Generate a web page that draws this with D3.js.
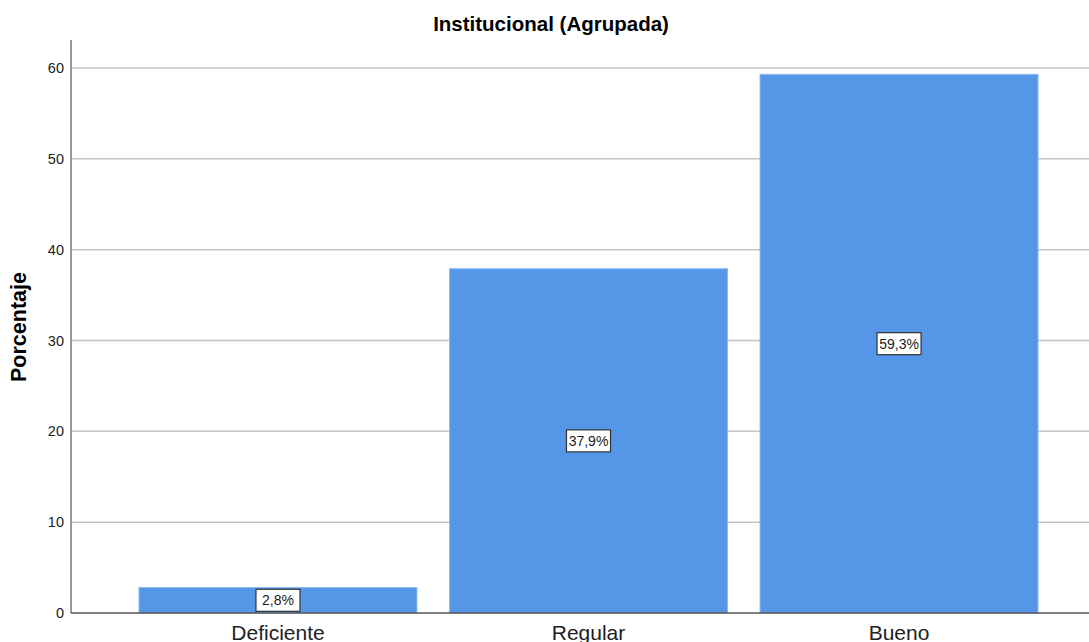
<!DOCTYPE html>
<html>
<head>
<meta charset="utf-8">
<script src="https://cdn.jsdelivr.net/npm/d3@7"></script>
<style>
  body { margin: 0; background: white; }
  svg { font-family: "Liberation Sans", Arial, sans-serif; }
</style>
</head>
<body>
<svg id="chart" width="1089" height="642"></svg>
<script>
let categories = ["Deficiente", "Regular", "Bueno"];
let percentages = [2.8, 37.9, 59.3];
let yTicks = [0, 10, 20, 30, 40, 50, 60];

let width = 1089, height = 642;
let left = 71, bottom = 613;

let svg = d3.select("#chart");

let x = d3.scaleBand()
	.domain(categories)
	.range([left, 1106])
	.paddingInner(0.105)
	.paddingOuter(0.219);

let y = d3.scaleLinear()
	.domain([0, 60])
	.range([bottom, 68]);

// gridlines
svg.append("g")
	.selectAll("line")
	.data(yTicks.filter(function(d) { return d > 0; }))
	.enter().append("line")
	.attr("x1", left)
	.attr("x2", width)
	.attr("y1", function(d) { return y(d); })
	.attr("y2", function(d) { return y(d); })
	.attr("stroke", "#c4c4c4")
	.attr("stroke-width", 1.5);

// bars
svg.append("g")
	.selectAll("rect")
	.data(percentages)
	.enter().append("rect")
	.attr("x", function(d, i) { return x(categories[i]); })
	.attr("y", function(d) { return y(d); })
	.attr("width", x.bandwidth())
	.attr("height", function(d) { return bottom - y(d); })
	.attr("fill", "#5596e6")
	.attr("stroke", "#8ab8f0")
	.attr("stroke-width", 1);

// y axis
let yAxis = svg.append("g")
	.attr("transform", "translate(" + left + ",0)")
	.call(d3.axisLeft(y).tickValues(yTicks).tickSize(0).tickPadding(7));
yAxis.select(".domain").remove();
yAxis.selectAll("text")
	.style("font-size", "14.5px")
	.attr("fill", "#222");

svg.append("line")
	.attr("x1", left).attr("x2", left)
	.attr("y1", 40).attr("y2", bottom)
	.attr("stroke", "#999")
	.attr("stroke-width", 2);

// x baseline
svg.append("line")
	.attr("x1", left).attr("x2", width)
	.attr("y1", bottom).attr("y2", bottom)
	.attr("stroke", "#555")
	.attr("stroke-width", 1.5);

// x axis labels
let xAxis = svg.append("g")
	.attr("transform", "translate(0," + bottom + ")")
	.call(d3.axisBottom(x).tickSize(0).tickPadding(12));
xAxis.select(".domain").remove();
xAxis.selectAll("text")
	.style("font-size", "21px")
	.attr("fill", "#222");

// value labels
let labels = svg.append("g")
	.selectAll("g")
	.data(percentages)
	.enter().append("g")
	.attr("transform", function(d, i) {
		return "translate(" + (x(categories[i]) + x.bandwidth()/2) + "," + y(d/2) + ")";
	});

labels.append("rect")
	.attr("x", -22)
	.attr("y", -11)
	.attr("width", 44)
	.attr("height", 22)
	.attr("fill", "white")
	.attr("stroke", "#333")
	.attr("stroke-width", 1.2);

labels.append("text")
	.attr("text-anchor", "middle")
	.attr("dy", "0.35em")
	.style("font-size", "14px")
	.attr("fill", "#222")
	.text(function(d) { return d.toFixed(1).replace(".", ",") + "%"; });

// title
svg.append("text")
	.attr("x", 551)
	.attr("y", 31)
	.attr("text-anchor", "middle")
	.style("font-weight", "bold")
	.style("font-size", "20.5px")
	.text("Institucional (Agrupada)");

// y label
svg.append("text")
	.attr("transform", "translate(26," + 327 + ") rotate(-90)")
	.attr("text-anchor", "middle")
	.style("font-weight", "bold")
	.style("font-size", "21.5px")
	.text("Porcentaje");
</script>
</body>
</html>
